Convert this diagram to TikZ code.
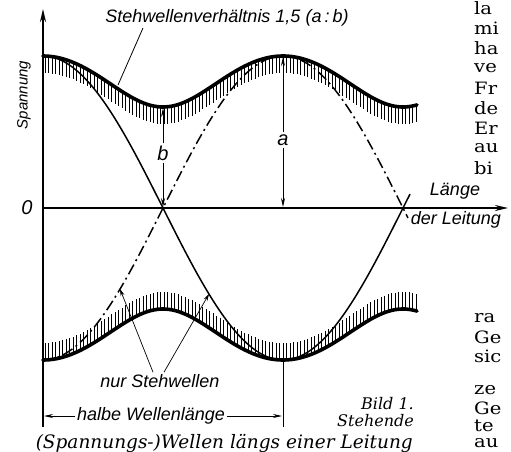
\documentclass[tikz,border=0pt]{standalone}
\usepackage{fontspec}
\setmainfont{DejaVu Serif}
\newfontfamily\labelfont{Liberation Sans}
\newfontfamily\pagefont[FakeStretch=1.15]{DejaVu Serif}
\usetikzlibrary{arrows.meta,positioning,calc}

\begin{document}
\begin{tikzpicture}[x=1pt, y=-1pt,
    axis/.style={line width=2pt, -{Stealth[length=13pt,width=6pt]}},
    envelope/.style={line width=3.6pt, line join=round, line cap=round},
    hatch/.style={line width=0.7pt},
    wave/.style={line width=1.5pt},
    dashdot/.style={line width=1.5pt, dash pattern=on 11pt off 4pt on 2pt off 4pt},
    dim/.style={line width=0.9pt, -{Stealth[length=9pt,width=4pt]}},
    pointer/.style={line width=0.7pt, -{Stealth[length=7pt,width=4pt]}},
    lbl/.style={font=\labelfont\itshape\fontsize{18}{20}\selectfont, inner sep=2pt},
    captext/.style={font=\itshape\fontsize{16}{18}\selectfont, inner sep=0pt},
    frag/.style={font=\pagefont\fontsize{17}{19}\selectfont, anchor=west, inner sep=0pt}]
    \useasboundingbox (0,0) rectangle (511,452);

    % axes
    \coordinate (origin) at (43,208);
    \coordinate (ytop) at (43,9);
    \coordinate (ybot) at (43,427);
    \coordinate (xend) at (508,208);
    \draw[axis] (ybot) -- (ytop);
    \draw[axis] (origin) -- (xend);

    % hatching under the envelopes
    \foreach \hx in {45,48.5,...,416} {
        \pgfmathsetmacro{\he}{152*sqrt(0.72075+0.27925*cos(1.5*(\hx-43)))}
        \draw[hatch] (\hx,208-\he) -- ++(0,17);
        \draw[hatch] (\hx,208+\he) -- ++(0,-17);
    }

    % envelopes (ratio 1,5)
    \draw[envelope] plot[domain=43:417, samples=120] (\x, {208-152*sqrt(0.72075+0.27925*cos(1.5*(\x-43)))});
    \draw[envelope] plot[domain=43:417, samples=120] (\x, {208+152*sqrt(0.72075+0.27925*cos(1.5*(\x-43)))});

    % pure standing waves
    \draw[wave] plot[domain=43:410, samples=120] (\x, {208-152*cos(0.75*(\x-43))});
    \draw[dashdot] plot[domain=43:408, samples=120] (\x, {208+152*cos(0.75*(\x-43))});

    % labels
    \node[lbl, font=\labelfont\itshape\fontsize{20}{22}\selectfont] (zero) at (27,208) {0};
    \node[lbl, rotate=90, font=\labelfont\itshape\fontsize{15}{17}\selectfont] (spannung) at (24,95) {Spannung};
    \node[lbl] (ratio) at (227,18) {Stehwellenverhältnis 1,5 (a\,:\,b)};
    \coordinate (ratioFoot) at (143,28);
    \coordinate (ratioTip) at (118,85);
    \draw[line width=0.8pt] (ratioFoot) -- (ratioTip);

    \node[lbl] (laenge) at (455,191) {Länge};
    \node[lbl] (leitung) at (456,220) {der Leitung};

    % a and b
    \node[lbl, font=\labelfont\itshape\fontsize{20}{22}\selectfont] (b) at (163,153) {b};
    \coordinate (bTop) at (163,108);
    \coordinate (bBot) at (163,207);
    \draw[dim] (b) -- (bTop);
    \draw[dim] (b) -- (bBot);
    \node[lbl, font=\labelfont\itshape\fontsize{20}{22}\selectfont] (a) at (283,140) {a};
    \coordinate (aTop) at (283,57);
    \coordinate (aBot) at (283,207);
    \draw[dim] (a) -- (aTop);
    \draw[dim] (a) -- (aBot);

    % nur Stehwellen
    \node[lbl] (nur) at (160,381) {nur Stehwellen};
    \coordinate (nurL) at (120,289);
    \coordinate (nurR) at (209,294);
    \draw[pointer] ([xshift=-7pt]nur.north) -- (nurL);
    \draw[pointer] ([xshift=4pt]nur.north) -- (nurR);

    % halbe Wellenlaenge
    \coordinate (extTop) at (283,362);
    \coordinate (extBot) at (283,427);
    \draw[line width=1pt] (extTop) -- (extBot);
    \node[lbl] (halbe) at (151,416) {halbe Wellenlänge};
    \coordinate (halbeL) at (44,416);
    \coordinate (halbeR) at (282,416);
    \draw[dim] (halbe) -- (halbeL);
    \draw[dim] (halbe) -- (halbeR);

    % caption
    \node[captext, anchor=east] (bild) at (414,404) {Bild 1.};
    \node[captext, below=4pt of bild.south east, anchor=north east] (stehende) {Stehende};
    \node[captext, anchor=east, font=\itshape\fontsize{18.5}{20}\selectfont] (caption) at (413,443) {(Spannungs-)Wellen längs einer Leitung};

    % text of the page beside the picture
    \foreach \fy/\ft in {8/la,28/mi,48/ha,68/ve,88/Fr,108/de,128/Er,148/au,168/bi,
                         318/ra,337/Ge,356/sic,390/ze,408/Ge,426/te,443/au}
        \node[frag] (frag\fy) at (474,\fy) {\ft};
\end{tikzpicture}
\end{document}
